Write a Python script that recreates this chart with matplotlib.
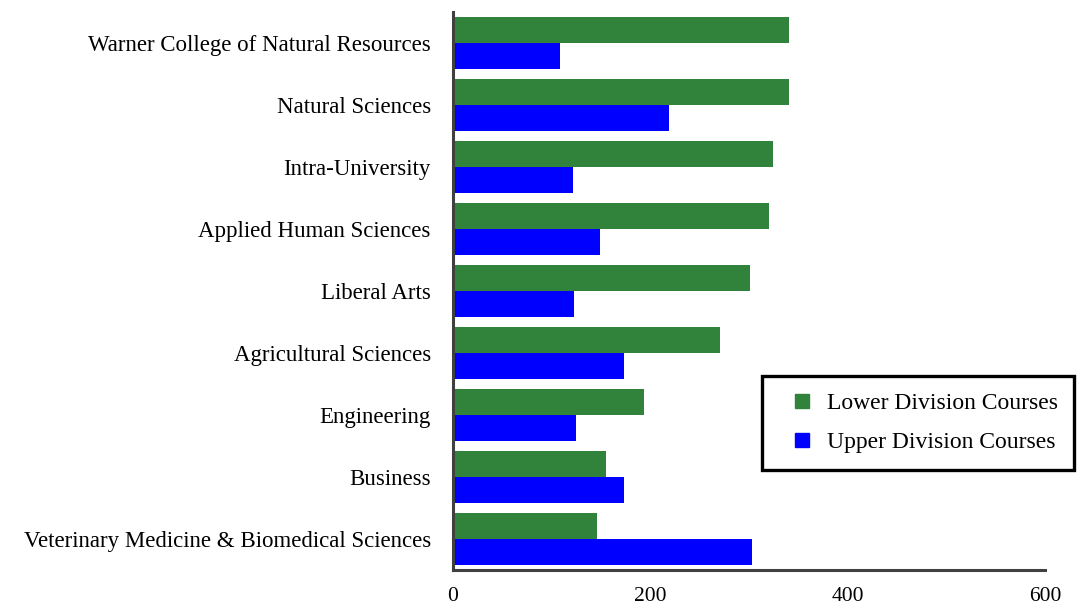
import matplotlib.pyplot as plt
from matplotlib.lines import Line2D
import numpy as np

colleges = [
    "Warner College of Natural Resources",
    "Natural Sciences",
    "Intra-University",
    "Applied Human Sciences",
    "Liberal Arts",
    "Agricultural Sciences",
    "Engineering",
    "Business",
    "Veterinary Medicine & Biomedical Sciences",
]
lower = [341, 341, 324, 320, 301, 271, 194, 155, 146]
upper = [108, 219, 122, 149, 123, 173, 125, 173, 303]

green = "#31833b"
blue = "#0000ff"

plt.rcParams["font.family"] = ["Liberation Serif", "DejaVu Serif"]

fig = plt.figure(figsize=(10.88, 6.04), dpi=100)
ax = fig.add_axes([0.4164, 0.0563, 0.5441, 0.9238])

y = np.arange(len(colleges))[::-1]
h = 0.42
ax.barh(y + h / 2, lower, height=h, color=green)
ax.barh(y - h / 2, upper, height=h, color=blue)

ax.set_xlim(0, 600)
ax.set_ylim(-0.5, len(colleges) - 0.5)
ax.set_xticks([0, 200, 400, 600])
ax.set_yticks(y)
ax.set_yticklabels(colleges)
ax.tick_params(axis="y", length=0, pad=16, labelsize=16.5)
ax.tick_params(axis="x", length=0, pad=12, labelsize=15.5)

for s in ["top", "right"]:
    ax.spines[s].set_visible(False)
for s in ["left", "bottom"]:
    ax.spines[s].set_color("#404040")
    ax.spines[s].set_linewidth(2.2)

handles = [Line2D([], [], ls="none", marker="s", markersize=9.5, color=green,
                  label="Lower Division Courses"),
           Line2D([], [], ls="none", marker="s", markersize=9.5, color=blue,
                  label="Upper Division Courses")]
leg = fig.legend(handles=handles, loc="center left", bbox_to_anchor=(0.7004, 0.2997),
                 fontsize=17, frameon=True, fancybox=False, edgecolor="black",
                 framealpha=1, handlelength=2.0, handletextpad=0.05,
                 labelspacing=0.75, borderpad=0.7, borderaxespad=0)
leg.get_frame().set_linewidth(2.4)

fig.savefig("out.png", dpi=100)
